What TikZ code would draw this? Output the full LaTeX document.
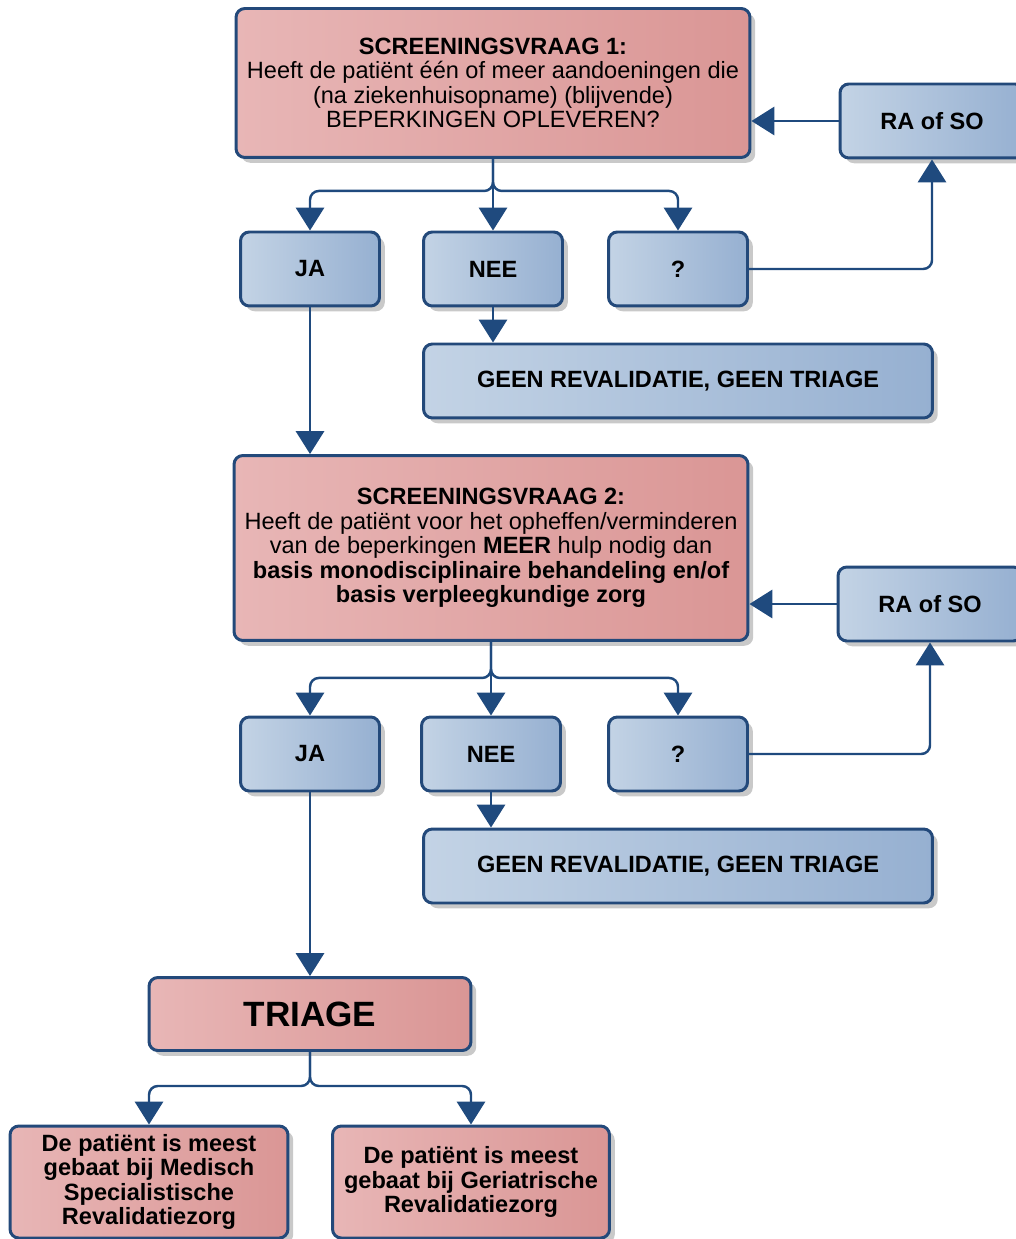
\documentclass[tikz,border=0pt]{standalone}
\usepackage{fontspec}
\setmainfont{Liberation Sans}
\usetikzlibrary{arrows.meta,shadows}
\definecolor{redlight}{HTML}{E8B6B6}
\definecolor{reddark}{HTML}{DA9695}
\definecolor{bluelight}{HTML}{C3D3E5}
\definecolor{bluedark}{HTML}{96B0D1}
\definecolor{edgeblue}{HTML}{23497A}
\definecolor{lineblue}{HTML}{1F4A7E}

\begin{document}
\begin{tikzpicture}[x=0.02cm,y=-0.02cm]
			\tikzstyle{every node}+=[inner sep=0pt, align=center, font=\fontsize{13.4}{14}\selectfont\bfseries]
			\tikzstyle{box}=[draw=edgeblue, line width=1.7pt, rounded corners=5pt,
				drop shadow={shadow xshift=3pt, shadow yshift=-3pt, fill=black!30, opacity=.7}]
			\tikzstyle{redbox}=[box, left color=redlight, right color=reddark]
			\tikzstyle{bluebox}=[box, left color=bluelight, right color=bluedark]
			\tikzstyle{vraag}=[redbox, minimum width=10.28cm, font=\fontsize{13.4}{14}\selectfont\mdseries]
			\tikzstyle{conn}=[draw=lineblue, line width=1.4pt, rounded corners=5pt, -{Triangle[width=16pt,length=13pt]}]
			\useasboundingbox (0,0) rectangle (1016,1239);
			% screeningsvraag 1
			\node [vraag, minimum height=2.98cm] (vraag1) at (493,83) {\textbf{SCREENINGSVRAAG 1:}\\
				Heeft de patiënt één of meer aandoeningen die\\ (na ziekenhuisopname) (blijvende)\\ BEPERKINGEN OPLEVEREN?};
			\node [bluebox, minimum width=3.68cm, minimum height=1.48cm] (raso1) at (932,121) {RA of SO};
			\node [bluebox, minimum width=2.78cm, minimum height=1.48cm] (ja1) at (310,269) {JA};
			\node [bluebox, minimum width=2.78cm, minimum height=1.48cm] (nee1) at (493,269) {NEE};
			\node [bluebox, minimum width=2.78cm, minimum height=1.48cm] (twijfel1) at (678,269) {?};
			\node [bluebox, minimum width=10.18cm, minimum height=1.48cm] (geen1) at (678,381) {GEEN REVALIDATIE, GEEN TRIAGE};
			% screeningsvraag 2
			\node [vraag, minimum height=3.7cm] (vraag2) at (491,548) {\textbf{SCREENINGSVRAAG 2:}\\
				Heeft de patiënt voor het opheffen/verminderen\\ van de beperkingen \textbf{MEER} hulp nodig dan\\
				\textbf{basis monodisciplinaire behandeling en/of}\\ \textbf{basis verpleegkundige zorg}};
			\node [bluebox, minimum width=3.68cm, minimum height=1.48cm] (raso2) at (930,604) {RA of SO};
			\node [bluebox, minimum width=2.78cm, minimum height=1.48cm] (ja2) at (310,754) {JA};
			\node [bluebox, minimum width=2.78cm, minimum height=1.48cm] (nee2) at (491,754) {NEE};
			\node [bluebox, minimum width=2.78cm, minimum height=1.48cm] (twijfel2) at (678,754) {?};
			\node [bluebox, minimum width=10.18cm, minimum height=1.48cm] (geen2) at (678,866) {GEEN REVALIDATIE, GEEN TRIAGE};
			% triage
			\node [redbox, minimum width=6.44cm, minimum height=1.46cm, font=\fontsize{20}{24}\selectfont\bfseries] (triage) at (310,1014) {TRIAGE};
			\node [redbox, minimum width=5.56cm, minimum height=2.24cm] (msr) at (149,1182) {De patiënt is meest\\ gebaat bij Medisch\\ Specialistische\\ Revalidatiezorg};
			\node [redbox, minimum width=5.54cm, minimum height=2.24cm] (gr) at (471,1182) {De patiënt is meest\\ gebaat bij Geriatrische\\ Revalidatiezorg};
			% connectors
			\draw [conn] (vraag1.south) -- ++(0,32) -| (ja1.north);
			\draw [conn] (vraag1.south) -- (nee1.north);
			\draw [conn] (vraag1.south) -- ++(0,32) -| (twijfel1.north);
			\draw [conn] (twijfel1.east) -| (raso1.south);
			\draw [conn] (raso1.west) -- (vraag1.east |- raso1.west);
			\draw [conn] (nee1.south) -- (nee1.south |- geen1.north);
			\draw [conn] (ja1.south) -- (ja1.south |- vraag2.north);
			\draw [conn] (vraag2.south) -- ++(0,36) -| (ja2.north);
			\draw [conn] (vraag2.south) -- (nee2.north);
			\draw [conn] (vraag2.south) -- ++(0,36) -| (twijfel2.north);
			\draw [conn] (twijfel2.east) -| (raso2.south);
			\draw [conn] (raso2.west) -- (vraag2.east |- raso2.west);
			\draw [conn] (nee2.south) -- (nee2.south |- geen2.north);
			\draw [conn] (ja2.south) -- (triage.north);
			\draw [conn] (triage.south) -- ++(0,34) -| (msr.north);
			\draw [conn] (triage.south) -- ++(0,34) -| (gr.north);
\end{tikzpicture}
\end{document}
